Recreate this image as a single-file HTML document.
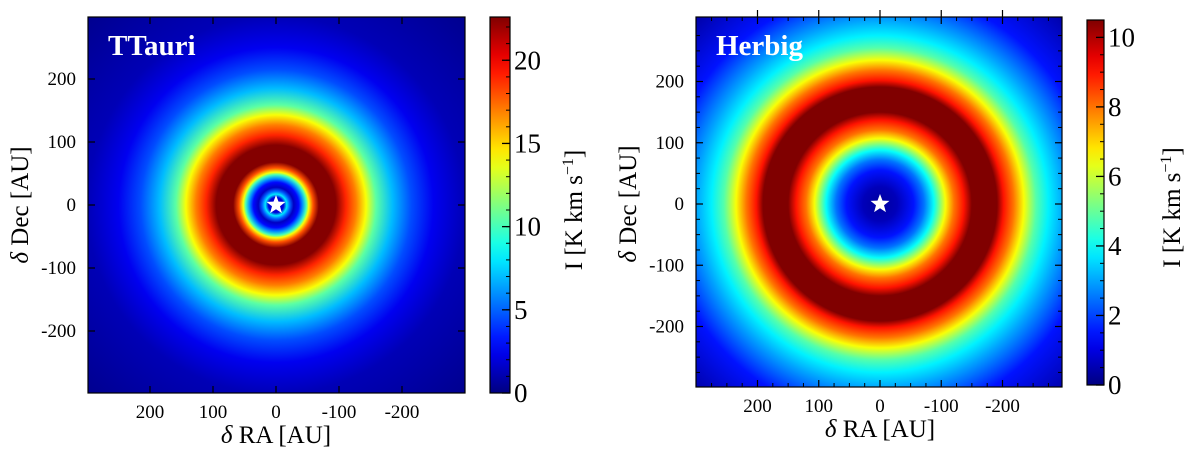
<!DOCTYPE html>
<html><head><meta charset="utf-8">
<style>
html,body{margin:0;padding:0;background:#fff;overflow:hidden;width:1200px;height:459px;}
svg{display:block;position:absolute;left:0;top:0;}
svg text{font-family:"Liberation Serif","DejaVu Serif",serif;}
</style></head>
<body>
<svg id="fig" width="1200" height="459" viewBox="0 0 1200 459" xmlns="http://www.w3.org/2000/svg"></svg>
<script>
// ---- data ----
const ttRadiusAU = [0,12,17,22,28,36,42,48,52,59,68,95,111,127,143,159,185,215,250,300,430];
const ttIntensity = [1.5,2,8,5,1.5,3,6,10,14,18,22.5,22.5,19,17,14,10.5,7,4.5,2.5,1.2,0.3];
const hbRadiusAU = [0,28,55,72,88,107,121,137,150,191,202,218,235,255,275,300,350,430];
const hbIntensity = [0.3,0.6,1.5,2.5,4,6.5,8,9,10.5,10.5,9,8,6.5,4.8,3.8,3,1.5,0.4];
const axisTicks = [200,100,0,-100,-200];
const axisTickLabels = ["200","100","0","-100","-200"];
const ttCbarTicks = [0,5,10,15,20];
const hbCbarTicks = [0,2,4,6,8,10];

const NS="http://www.w3.org/2000/svg";
const fig=document.getElementById('fig');
function mk(tag,attrs,parent){const e=document.createElementNS(NS,tag);for(const k in attrs)e.setAttribute(k,attrs[k]);(parent||fig).appendChild(e);return e;}
function jet(v){v=Math.max(0,Math.min(1,v));
  const r=Math.max(0,Math.min(1,1.5-Math.abs(4*v-3)));
  const g=Math.max(0,Math.min(1,1.5-Math.abs(4*v-2)));
  const b=Math.max(0,Math.min(1,1.5-Math.abs(4*v-1)));
  return `rgb(${Math.round(r*255)},${Math.round(g*255)},${Math.round(b*255)})`;}
const defs=mk('defs',{});

function panel(o){
  const {id,x0,x1,y0,y1,cx,cy,pxPerAU,radii,vals,vmax,cb,cbTicks,cbMinor,title,minor}=o;
  const sx=au=>cx-au*pxPerAU, sy=au=>cy-au*pxPerAU;
  const rmax=radii[radii.length-1]*pxPerAU;
  const grad=mk('radialGradient',{id:id+'g',gradientUnits:'userSpaceOnUse',cx:cx,cy:cy,r:rmax},defs);
  radii.forEach((r,i)=>{mk('stop',{offset:r/radii[radii.length-1],'stop-color':jet(vals[i]/vmax)},grad);});
  const map=mk('rect',{x:x0,y:y0,width:x1-x0,height:y1-y0,fill:`url(#${id}g)`});
  
  
  const pts=[];for(let i=0;i<10;i++){const a=-Math.PI/2+i*Math.PI/5,rr=i%2?4.2:10;pts.push((cx+rr*Math.cos(a)).toFixed(1)+','+(cy+rr*Math.sin(a)).toFixed(1));}
  const st=mk('polygon',{points:pts.join(' '),fill:'#fff'});
  
  
  const fr=mk('rect',{x:x0,y:y0,width:x1-x0,height:y1-y0,fill:'none',stroke:'#000','stroke-width':1.2});
  
  
  axisTicks.forEach((t,i)=>{
    const X=sx(t),Y=sy(t);
    mk('line',{x1:X,y1:y1,x2:X,y2:y1-7,stroke:'#000','stroke-width':1.2});
    mk('line',{x1:X,y1:y0,x2:X,y2:y0+7,stroke:'#000','stroke-width':1.2});
    mk('line',{x1:x0,y1:Y,x2:x0+7,y2:Y,stroke:'#000','stroke-width':1.2});
    mk('line',{x1:x1,y1:Y,x2:x1-7,y2:Y,stroke:'#000','stroke-width':1.2});
    const xl=mk('text',{x:X,y:y1+25,'font-size':19,'text-anchor':'middle'});xl.textContent=axisTickLabels[i];
    
    
    const yl=mk('text',{x:x0-12,y:Y+6,'font-size':19,'text-anchor':'end'});yl.textContent=axisTickLabels[i];
    
    
  });
  if(minor){for(let t=-275;t<=275;t+=25){if(t%100===0)continue;const X=sx(t),Y=sy(t);
    mk('line',{x1:X,y1:y1,x2:X,y2:y1-4,stroke:'#000'});mk('line',{x1:X,y1:y0,x2:X,y2:y0+4,stroke:'#000'});
    mk('line',{x1:x0,y1:Y,x2:x0+4,y2:Y,stroke:'#000'});mk('line',{x1:x1,y1:Y,x2:x1-4,y2:Y,stroke:'#000'});}
    axisTicks.forEach(t=>{mk('line',{x1:sx(t),y1:y0,x2:sx(t),y2:y0-7,stroke:'#000','stroke-width':1.2});});
  }
  const xt=mk('text',{x:cx,y:y1+50,'font-size':25,'text-anchor':'middle'});xt.innerHTML='<tspan font-style="italic">δ</tspan> RA [AU]';
  
  
  const yt=mk('text',{x:0,y:0,'font-size':25,'text-anchor':'middle',transform:`translate(${x0-60},${cy}) rotate(-90)`});yt.innerHTML='<tspan font-style="italic">δ</tspan> Dec [AU]';
  
  
  const tt=mk('text',{x:x0+20,y:y0+38,'font-size':29,'font-weight':'bold',fill:'#fff'});tt.textContent=title;
  
  
  const cg=mk('linearGradient',{id:id+'cb',x1:0,y1:1,x2:0,y2:0},defs);
  for(let i=0;i<=20;i++)mk('stop',{offset:i/20,'stop-color':jet(i/20)},cg);
  const cbr=mk('rect',{x:cb.x,y:cb.y0,width:cb.w,height:cb.y1-cb.y0,fill:`url(#${id}cb)`,stroke:'#000','stroke-width':1.2});
  
  
  const cy_=v=>cb.y1-(v/vmax)*(cb.y1-cb.y0);
  for(let v=0;v<=vmax;v+=cbMinor)mk('line',{x1:cb.x+cb.w,y1:cy_(v),x2:cb.x+cb.w-4,y2:cy_(v),stroke:'#000'});
  cbTicks.forEach(v=>{mk('line',{x1:cb.x+cb.w,y1:cy_(v),x2:cb.x+cb.w-8,y2:cy_(v),stroke:'#000','stroke-width':1.3});
    const l=mk('text',{x:cb.x+cb.w+4,y:cy_(v)+9,'font-size':27});l.textContent=v;
    
    });
  const cl=mk('text',{x:0,y:0,'font-size':25,'text-anchor':'middle',transform:`translate(${cb.labelX},${(cb.y0+cb.y1)/2+5}) rotate(-90)`});
  cl.innerHTML='I [K km s<tspan dy="-9" font-size="16">−1</tspan><tspan dy="9">]</tspan>';
  
  
}
panel({id:'ttauri',x0:88,x1:465,y0:17,y1:393,cx:276,cy:205,pxPerAU:0.63,radii:ttRadiusAU,vals:ttIntensity,vmax:22.6,
  cb:{x:490,w:20,y0:17,y1:393,labelX:582},cbTicks:ttCbarTicks,cbMinor:1,title:'TTauri',minor:false});
panel({id:'herbig',x0:696,x1:1062,y0:17,y1:387,cx:880,cy:204,pxPerAU:0.6125,radii:hbRadiusAU,vals:hbIntensity,vmax:10.5,
  cb:{x:1087,w:17,y0:20,y1:385,labelX:1180},cbTicks:hbCbarTicks,cbMinor:0.5,title:'Herbig',minor:true});
</script>
</body></html>
